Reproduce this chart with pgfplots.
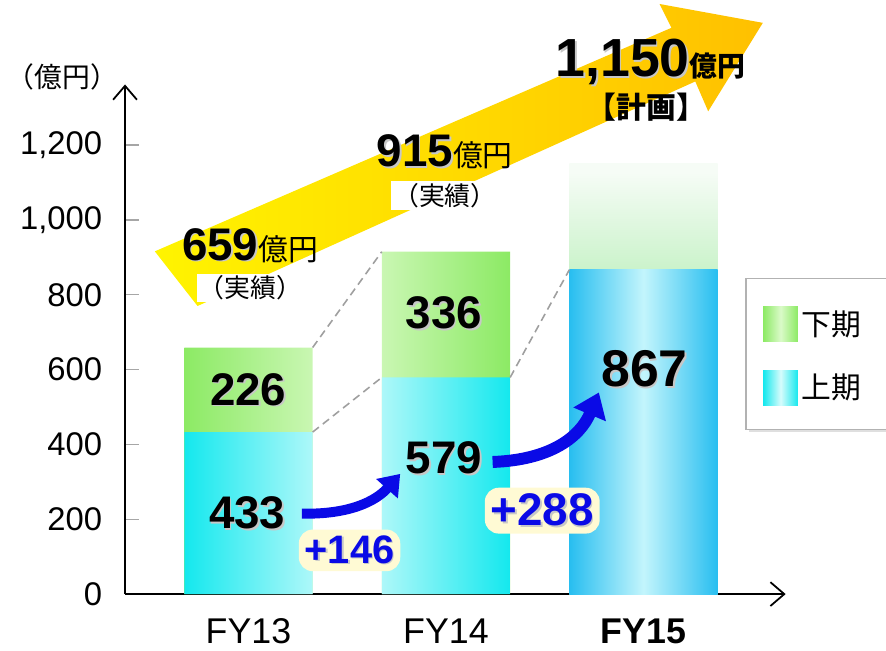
\documentclass[border=0pt]{standalone}
\usepackage{pgfplots}
\pgfplotsset{compat=1.18}
\usepackage{fontspec}
\setmainfont{Liberation Sans}
\newfontfamily\jp{Noto Sans CJK JP}
\usetikzlibrary{arrows.meta,shadows}

\definecolor{cyanE}{RGB}{20,232,238}
\definecolor{cyanM}{RGB}{215,252,252}
\definecolor{greenE}{RGB}{140,234,100}
\definecolor{greenM}{RGB}{218,250,200}
\definecolor{blueE}{RGB}{40,190,240}
\definecolor{blueM}{RGB}{195,245,252}
\definecolor{paleG}{RGB}{200,242,200}
\definecolor{paleW}{RGB}{246,252,246}
\definecolor{arrowY}{RGB}{255,244,0}
\definecolor{arrowG}{RGB}{255,192,0}
\definecolor{plusblue}{RGB}{10,10,230}
\definecolor{glow}{RGB}{255,250,212}

% FY15 plan bar: pale green above the first half, fading to white at the top
\pgfdeclareverticalshading{fytop}{100bp}{color(0bp)=(paleG); color(62bp)=(paleG); color(74bp)=(paleW); color(100bp)=(paleW)}

% text with a soft grey copy behind it
\newcommand\sh[1]{\makebox[0pt][l]{\kern0.8pt\raisebox{-0.8pt}{\color{black!22}#1}}#1}

\pgfplotsset{
  sq legend/.style={legend image code/.code={\path[##1] (0pt,-8.75pt) rectangle (17.5pt,8.75pt);}},
  bars/.style={ybar, bar shift=0pt, draw=none, sq legend},
}

\begin{document}
\begin{tikzpicture}
% 1 px of the reference = 0.5pt, origin at the axis corner
\begin{scope}[x=0.5pt,y=-0.5pt,shift={(-60pt,299pt)}]
  \useasboundingbox (0,0) rectangle (886,646);
  \shade[left color=arrowY, right color=arrowG]
    (150,253) -- (670,28) -- (658,4) -- (762,23) -- (707,112) -- (694,82) -- (193,308) -- cycle;
  \draw[gray!60, fill=white, line width=0.6pt,
        drop shadow={opacity=0.25, shadow xshift=1.5pt, shadow yshift=-1.5pt}]
    (745,280) rectangle (905,432);
\end{scope}

\begin{axis}[
  at={(0,0)}, anchor=south west,
  scale only axis, width=332.5pt, height=256.5pt,
  xmin=-0.625, xmax=2.72, ymin=0, ymax=1362,
  axis lines=left,
  axis line style={line width=0.9pt, -{Straight Barb[length=7pt,width=12pt,line width=0.9pt]}},
  xtick={0,1,2}, xticklabels={FY13,FY14,\textbf{FY15}},
  ytick={0,200,...,1200},
  tick align=inside, major tick length=7pt,
  x tick style={draw=none},
  y tick style={draw=gray!70, line width=0.6pt},
  scaled y ticks=false,
  yticklabel style={/pgf/number format/.cd, 1000 sep={,}, assume math mode=true, /tikz/.cd,
    font=\fontsize{16.5}{19}\selectfont, xshift=-8pt},
  xticklabel style={font=\fontsize{18}{21}\selectfont, yshift=-9pt},
  ylabel={\jp\fontsize{14}{16}\selectfont （億円）},
  every axis y label/.style={at={(axis description cs:-0.095,1.014)}, anchor=center},
  clip=false,
  legend cell align=left,
  legend style={at={(axis description cs:0.9654,0.5653)}, anchor=north west,
    draw=none, fill=none, inner sep=0pt, row sep=14pt,
    font=\jp\fontsize{15}{18}\selectfont},
]
  % totals drawn first, first half laid over them
  \addplot[bars, bar width=0.65, left color=greenE, right color=greenE, middle color=greenM]
    coordinates {(0,659) (1,915)};
  \addlegendentry{下期}
  \addplot[bars, bar width=0.65, left color=cyanE, right color=cyanE, middle color=cyanM]
    coordinates {(0,433) (1,579)};
  \addlegendentry{上期}
  \addplot[bars, bar width=0.75, shade, shading=fytop, forget plot]
    coordinates {(2,1150)};
  \addplot[bars, bar width=0.75, left color=blueE, right color=blueE, middle color=blueM, forget plot]
    coordinates {(2,867)};

  \draw[gray!75, dash pattern=on 4pt off 2.5pt, line width=0.8pt]
    (axis cs:0.325,659) -- (axis cs:0.675,915)
    (axis cs:0.325,433) -- (axis cs:0.675,579)
    (axis cs:1.325,579) -- (axis cs:1.625,867);
\end{axis}

\begin{scope}[x=0.5pt,y=-0.5pt,shift={(-60pt,299pt)}]
  \tikzset{val/.style={inner sep=0pt, font=\bfseries\fontsize{23}{26}\selectfont}}
  \node[val] at (244,393) {\sh{226}};
  \node[val] at (243,517) {\sh{433}};
  \node[val] at (441,316) {\sh{336}};
  \node[val] at (441,462) {\sh{579}};
  \node[val, font=\bfseries\fontsize{26}{30}\selectfont] at (643,372) {\sh{867}};

  \draw[plusblue, line width=5pt, -{Triangle[length=10pt,width=14pt]}]
    (298,517) .. controls (345,518) and (372,505) .. (397,477);
  \draw[plusblue, line width=6pt, -{Triangle[length=12pt,width=17pt]}]
    (490,465) .. controls (548,463) and (578,440) .. (597,395);

  \node[fill=glow, rounded corners=7pt, inner sep=3pt, text=plusblue,
        font=\bfseries\fontsize{20}{24}\selectfont] at (346,554) {\sh{+146}};
  \node[fill=glow, rounded corners=7pt, inner sep=3pt, text=plusblue,
        font=\bfseries\fontsize{23}{27}\selectfont] at (540,514) {\sh{+288}};

  \node[anchor=base west, inner sep=0pt] at (177,262)
    {\bfseries\fontsize{23}{26}\selectfont\sh{659}\jp\mdseries\fontsize{15}{18}\selectfont 億円};
  \node[fill=white, inner sep=1pt, font=\jp\fontsize{13}{16}\selectfont] at (246,290) {（実績）};
  \node[anchor=base west, inner sep=0pt] at (373,168)
    {\bfseries\fontsize{23}{26}\selectfont\sh{915}\jp\mdseries\fontsize{15}{18}\selectfont 億円};
  \node[fill=white, inner sep=1pt, font=\jp\fontsize{13}{16}\selectfont] at (442,197) {（実績）};
  \node[anchor=base west, inner sep=0pt] at (553,77)
    {\bfseries\fontsize{27}{30}\selectfont\sh{1,150}\jp\fontsize{14}{17}\selectfont 億円};
  \node[inner sep=0pt, font=\jp\bfseries\fontsize{15}{18}\selectfont] at (645,108) {【計画】};
\end{scope}
\end{tikzpicture}
\end{document}
